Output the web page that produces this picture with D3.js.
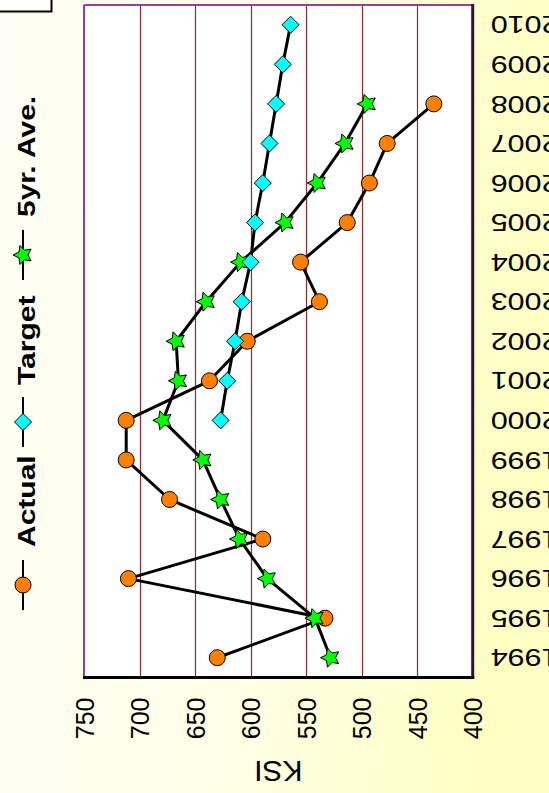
<!DOCTYPE html>
<html>
<head>
<meta charset="utf-8">
<script src="https://cdn.jsdelivr.net/npm/d3@7/dist/d3.min.js"></script>
<style>
  html, body { margin: 0; padding: 0; background: #fff; }
  svg { display: block; }
</style>
</head>
<body>
<svg id="chart" width="549" height="793"></svg>
<script>
// ---- data ----
const years = ["1994","1995","1996","1997","1998","1999","2000","2001","2002","2003","2004","2005","2006","2007","2008","2009","2010"];
const actualYears = ["1994","1995","1996","1997","1998","1999","2000","2001","2002","2003","2004","2005","2006","2007","2008"];
const actualValues = [630, 533, 710, 589, 673, 712, 712, 637, 603, 538, 555, 513, 493, 477, 435];
const targetYears = ["2000","2001","2002","2003","2004","2005","2006","2007","2008","2009","2010"];
const targetValues = [627, 621, 614, 608, 600, 596, 589, 583, 577, 571, 564];
const aveYears = ["1994","1995","1996","1997","1998","1999","2000","2001","2002","2003","2004","2005","2006","2007","2008"];
const aveValues = [528, 542, 585, 610, 627, 643, 679, 665, 667, 640, 609, 569, 540, 515, 495];
const ksiTicks = [750, 700, 650, 600, 550, 500, 450, 400];
const seriesNames = ["Actual", "Target", "5yr. Ave."];
const axisTitle = "KSI";

// ---- layout ----
const W = 549, H = 793;
const plot = { left: 84, right: 472.7, top: 5, bottom: 677.5 };
const FONT = "Arial, 'Liberation Sans', Helvetica, sans-serif";

const svg = d3.select("#chart");
const defs = svg.append("defs");
const grad = defs.append("linearGradient").attr("id", "bg")
  .attr("x1", "0").attr("y1", "0").attr("x2", "1").attr("y2", "0.15");
grad.append("stop").attr("offset", "0").attr("stop-color", "#FEFEF5");
grad.append("stop").attr("offset", "0.55").attr("stop-color", "#FFFFE6");
grad.append("stop").attr("offset", "1").attr("stop-color", "#FFFFC4");
svg.append("rect").attr("width", W).attr("height", H).attr("fill", "url(#bg)");

// scales
const x = d3.scaleLinear().domain([750, 400]).range([plot.left, plot.right]);
const y = d3.scaleBand().domain(years.slice().reverse()).range([plot.top, plot.bottom]).padding(0);
const yc = d => y(d) + y.bandwidth() / 2;

// plot area
svg.append("rect").attr("x", plot.left).attr("y", plot.top)
  .attr("width", plot.right - plot.left).attr("height", plot.bottom - plot.top)
  .attr("fill", "#FFFFFF");

// grid lines
svg.append("g").selectAll("line").data(ksiTicks.filter(v => v !== 750 && v !== 400)).join("line")
  .attr("x1", d => Math.round(x(d)) + 0.5).attr("x2", d => Math.round(x(d)) + 0.5)
  .attr("y1", plot.top).attr("y2", plot.bottom)
  .attr("stroke", "#8E2C2C").attr("stroke-width", 1.2);

// borders
svg.append("line").attr("x1", plot.left).attr("x2", plot.left).attr("y1", plot.top).attr("y2", plot.bottom)
  .attr("stroke", "#9A3D9A").attr("stroke-width", 2);
svg.append("line").attr("x1", plot.left).attr("x2", plot.right).attr("y1", plot.top).attr("y2", plot.top)
  .attr("stroke", "#9A3D9A").attr("stroke-width", 2);
svg.append("line").attr("x1", plot.right).attr("x2", plot.right).attr("y1", plot.top - 1).attr("y2", plot.bottom + 1.5)
  .attr("stroke", "#3A0A3A").attr("stroke-width", 3);
svg.append("line").attr("x1", plot.left - 1).attr("x2", plot.right + 1.5).attr("y1", plot.bottom).attr("y2", plot.bottom)
  .attr("stroke", "#000000").attr("stroke-width", 3);

// KSI axis (labels rotated)
const kAxis = svg.append("g").call(d3.axisBottom(x).tickValues(ksiTicks).tickSize(0).tickFormat(d3.format("d")));
kAxis.select(".domain").remove();
kAxis.selectAll("text")
  .attr("x", 0).attr("y", 0).attr("dy", null)
  .attr("transform", `translate(0,${plot.bottom + 20}) rotate(-90)`)
  .attr("text-anchor", "end").attr("dominant-baseline", "central")
  .attr("font-family", FONT).attr("font-size", 25).attr("fill", "#000");

// Year axis (labels upside down)
const yAxis = svg.append("g").attr("transform", `translate(${plot.right},0)`)
  .call(d3.axisRight(y).tickSize(0));
yAxis.select(".domain").remove();
yAxis.selectAll("text")
  .attr("x", 0).attr("y", 0).attr("dy", null)
  .attr("transform", "translate(18,0) rotate(180) scale(1.27,1)")
  .attr("text-anchor", "end").attr("dominant-baseline", "central")
  .attr("font-family", FONT).attr("font-size", 24).attr("fill", "#000");

// axis title
svg.append("text").text(axisTitle)
  .attr("transform", `translate(${(plot.left + plot.right) / 2},771) rotate(180)`)
  .attr("text-anchor", "middle").attr("dominant-baseline", "central")
  .attr("font-family", FONT).attr("font-size", 30).attr("fill", "#000");

// markers
const starPath = (() => {
  const R = 10, r = 5, pts = [];
  for (let i = 0; i < 10; i++) {
    const a = -Math.PI + i * Math.PI / 5;
    const rr = i % 2 === 0 ? R : r;
    pts.push([rr * Math.cos(a), rr * Math.sin(a)]);
  }
  return "M" + pts.map(p => p.join(",")).join("L") + "Z";
})();
const diamondPath = "M0,-8.5L8.5,0L0,8.5L-8.5,0Z";

const series = [
  { name: seriesNames[0], yrs: actualYears, vals: actualValues, type: "circle", fill: "#FF8000" },
  { name: seriesNames[1], yrs: targetYears, vals: targetValues, type: "diamond", fill: "#00FFFF" },
  { name: seriesNames[2], yrs: aveYears, vals: aveValues, type: "star", fill: "#00FF00" }
];

const line = d3.line().x(d => x(d.v)).y(d => yc(d.yr));
series.forEach(s => {
  s.pts = s.yrs.map((yr, i) => ({ yr, v: s.vals[i] }));
});
series.forEach(s => {
  svg.append("path").datum(s.pts).attr("d", line)
    .attr("fill", "none").attr("stroke", "#000").attr("stroke-width", 3).attr("stroke-linejoin", "round");
});

function drawMarker(g, type, fill) {
  if (type === "circle") {
    g.append("circle").attr("r", 8).attr("fill", fill).attr("stroke", "#000").attr("stroke-width", 1);
  } else if (type === "diamond") {
    g.append("path").attr("d", diamondPath).attr("fill", fill).attr("stroke", "#000").attr("stroke-width", 1);
  } else {
    g.append("path").attr("d", starPath).attr("fill", fill).attr("stroke", "#000").attr("stroke-width", 1)
      .attr("stroke-linejoin", "miter");
  }
}
[series[0], series[2], series[1]].forEach(s => {
  svg.append("g").selectAll("g").data(s.pts).join("g")
    .attr("transform", d => `translate(${x(d.v)},${yc(d.yr)})`)
    .each(function () { drawMarker(d3.select(this), s.type, s.fill); });
});

// legend (rotated)
const legendItems = [
  { s: series[0], mark: 585, text: 547 },
  { s: series[1], mark: 422, text: 385 },
  { s: series[2], mark: 255, text: 217 }
];
const lg = svg.append("g");
legendItems.forEach(it => {
  lg.append("line").attr("x1", 23).attr("x2", 23).attr("y1", it.mark - 25).attr("y2", it.mark + 25)
    .attr("stroke", "#000").attr("stroke-width", 2);
  const m = lg.append("g").attr("transform", `translate(23,${it.mark})`);
  drawMarker(m, it.s.type, it.s.fill);
  lg.append("text").text(it.s.name)
    .attr("transform", `translate(35,${it.text}) rotate(-90) scale(1.25,1)`)
    .attr("text-anchor", "start")
    .attr("font-family", FONT).attr("font-size", 24).attr("font-weight", "bold").attr("fill", "#000");
});

// cut-off title box at top-left
svg.append("rect").attr("x", -3).attr("y", -3).attr("width", 54.5).attr("height", 14.5)
  .attr("fill", "#FFFFFF").attr("stroke", "#000").attr("stroke-width", 2);
</script>
</body>
</html>
